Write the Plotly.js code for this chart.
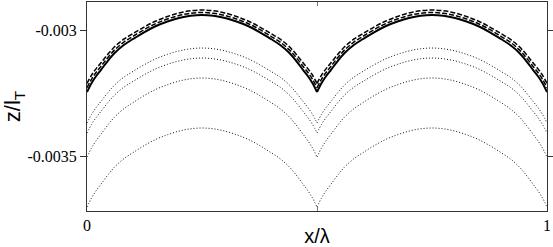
<!DOCTYPE html>
<html>
<head>
<meta charset="utf-8">
<script src="https://cdn.plot.ly/plotly-3.0.1.min.js"></script>
<style>html,body{margin:0;padding:0;background:#fff;}#chart{width:553px;height:247px;}</style>
</head>
<body>
<div id="chart"></div>
<script>
// x positions (x / lambda)
const xPos = [0,0.01,0.02,0.03,0.045,0.06,0.08,0.1,0.125,0.15,0.175,0.2,0.225,0.25,
  0.275,0.3,0.325,0.35,0.375,0.4,0.42,0.44,0.455,0.47,0.48,0.49,0.5,
  0.51,0.52,0.53,0.545,0.56,0.58,0.6,0.625,0.65,0.675,0.7,0.725,0.75,
  0.775,0.8,0.825,0.85,0.875,0.9,0.92,0.94,0.955,0.97,0.98,0.99,1];

// solid curve
const solidZ = [-0.0032433,-0.0032075,-0.0031798,-0.0031560,-0.0031203,-0.0030885,-0.0030568,-0.0030330,-0.0030052,-0.0029814,-0.0029635,-0.0029496,-0.0029409,-0.0029377,
  -0.0029409,-0.0029496,-0.0029635,-0.0029814,-0.0030052,-0.0030330,-0.0030568,-0.0030885,-0.0031203,-0.0031560,-0.0031798,-0.0032075,-0.0032433,
  -0.0032075,-0.0031798,-0.0031560,-0.0031203,-0.0030885,-0.0030568,-0.0030330,-0.0030052,-0.0029814,-0.0029635,-0.0029496,-0.0029409,-0.0029377,
  -0.0029409,-0.0029496,-0.0029635,-0.0029814,-0.0030052,-0.0030330,-0.0030568,-0.0030885,-0.0031203,-0.0031560,-0.0031798,-0.0032075,-0.0032433];

// dashed curves
const dashedAZ = [-0.0032262,-0.0031917,-0.0031651,-0.0031421,-0.0031072,-0.0030762,-0.0030453,-0.0030222,-0.0029949,-0.0029715,-0.0029536,-0.0029397,-0.0029310,-0.0029278,
  -0.0029310,-0.0029397,-0.0029536,-0.0029715,-0.0029949,-0.0030222,-0.0030453,-0.0030762,-0.0031072,-0.0031421,-0.0031651,-0.0031917,-0.0032262,
  -0.0031917,-0.0031651,-0.0031421,-0.0031072,-0.0030762,-0.0030453,-0.0030222,-0.0029949,-0.0029715,-0.0029536,-0.0029397,-0.0029310,-0.0029278,
  -0.0029310,-0.0029397,-0.0029536,-0.0029715,-0.0029949,-0.0030222,-0.0030453,-0.0030762,-0.0031072,-0.0031421,-0.0031651,-0.0031917,-0.0032262];

const dashedBZ = [-0.0032091,-0.0031758,-0.0031504,-0.0031282,-0.0030941,-0.0030639,-0.0030338,-0.0030115,-0.0029845,-0.0029615,-0.0029437,-0.0029298,-0.0029211,-0.0029179,
  -0.0029211,-0.0029298,-0.0029437,-0.0029615,-0.0029845,-0.0030115,-0.0030338,-0.0030639,-0.0030941,-0.0031282,-0.0031504,-0.0031758,-0.0032091,
  -0.0031758,-0.0031504,-0.0031282,-0.0030941,-0.0030639,-0.0030338,-0.0030115,-0.0029845,-0.0029615,-0.0029437,-0.0029298,-0.0029211,-0.0029179,
  -0.0029211,-0.0029298,-0.0029437,-0.0029615,-0.0029845,-0.0030115,-0.0030338,-0.0030639,-0.0030941,-0.0031282,-0.0031504,-0.0031758,-0.0032091];

// dotted curves
const dot1Z = [-0.0033663,-0.0033313,-0.0033044,-0.0032813,-0.0032464,-0.0032155,-0.0031845,-0.0031615,-0.0031345,-0.0031111,-0.0030937,-0.0030802,-0.0030718,-0.0030687,
  -0.0030718,-0.0030802,-0.0030937,-0.0031111,-0.0031345,-0.0031615,-0.0031845,-0.0032155,-0.0032464,-0.0032813,-0.0033044,-0.0033313,-0.0033663,
  -0.0033313,-0.0033044,-0.0032813,-0.0032464,-0.0032155,-0.0031845,-0.0031615,-0.0031345,-0.0031111,-0.0030937,-0.0030802,-0.0030718,-0.0030687,
  -0.0030718,-0.0030802,-0.0030937,-0.0031111,-0.0031345,-0.0031615,-0.0031845,-0.0032155,-0.0032464,-0.0032813,-0.0033044,-0.0033313,-0.0033663];

const dot2Z = [-0.0034060,-0.0033710,-0.0033441,-0.0033210,-0.0032861,-0.0032552,-0.0032242,-0.0032012,-0.0031742,-0.0031508,-0.0031334,-0.0031199,-0.0031115,-0.0031084,
  -0.0031115,-0.0031199,-0.0031334,-0.0031508,-0.0031742,-0.0032012,-0.0032242,-0.0032552,-0.0032861,-0.0033210,-0.0033441,-0.0033710,-0.0034060,
  -0.0033710,-0.0033441,-0.0033210,-0.0032861,-0.0032552,-0.0032242,-0.0032012,-0.0031742,-0.0031508,-0.0031334,-0.0031199,-0.0031115,-0.0031084,
  -0.0031115,-0.0031199,-0.0031334,-0.0031508,-0.0031742,-0.0032012,-0.0032242,-0.0032552,-0.0032861,-0.0033210,-0.0033441,-0.0033710,-0.0034060];

const dot3Z = [-0.0035012,-0.0034647,-0.0034361,-0.0034115,-0.0033750,-0.0033425,-0.0033099,-0.0032853,-0.0032568,-0.0032325,-0.0032143,-0.0032000,-0.0031909,-0.0031877,
  -0.0031909,-0.0032000,-0.0032143,-0.0032325,-0.0032568,-0.0032853,-0.0033099,-0.0033425,-0.0033750,-0.0034115,-0.0034361,-0.0034647,-0.0035012,
  -0.0034647,-0.0034361,-0.0034115,-0.0033750,-0.0033425,-0.0033099,-0.0032853,-0.0032568,-0.0032325,-0.0032143,-0.0032000,-0.0031909,-0.0031877,
  -0.0031909,-0.0032000,-0.0032143,-0.0032325,-0.0032568,-0.0032853,-0.0033099,-0.0033425,-0.0033750,-0.0034115,-0.0034361,-0.0034647,-0.0035012];

const dot4Z = [-0.0036996,-0.0036631,-0.0036345,-0.0036099,-0.0035734,-0.0035409,-0.0035083,-0.0034837,-0.0034552,-0.0034309,-0.0034127,-0.0033984,-0.0033893,-0.0033861,
  -0.0033893,-0.0033984,-0.0034127,-0.0034309,-0.0034552,-0.0034837,-0.0035083,-0.0035409,-0.0035734,-0.0036099,-0.0036345,-0.0036631,-0.0036996,
  -0.0036631,-0.0036345,-0.0036099,-0.0035734,-0.0035409,-0.0035083,-0.0034837,-0.0034552,-0.0034309,-0.0034127,-0.0033984,-0.0033893,-0.0033861,
  -0.0033893,-0.0033984,-0.0034127,-0.0034309,-0.0034552,-0.0034837,-0.0035083,-0.0035409,-0.0035734,-0.0036099,-0.0036345,-0.0036631,-0.0036996];

const xTickVals = [0, 0.5, 1];
const xTickText = ['0', ' ', '1'];
const yTickVals = [-0.0035, -0.003];
const yTickText = ['-0.0035', '-0.003'];

const SERIF = 'Liberation Serif';
const SANS = 'Liberation Sans';

// each curve is drawn arch by arch so the cusps stay sharp while the arches are smooth
const cuspIdx = [0, 26, 52];
function traces(y, dash, width, color) {
  const out = [];
  for (let k = 0; k < cuspIdx.length - 1; k++) {
    const a = cuspIdx[k], b = cuspIdx[k + 1] + 1;
    out.push({x: xPos.slice(a, b), y: y.slice(a, b), mode: 'lines', type: 'scatter',
      hoverinfo: 'skip',
      line: {color: color, width: width, dash: dash, shape: 'spline', smoothing: 1}});
  }
  return out;
}

const data = [].concat(
  traces(dot4Z, '1px,2px', 1, '#111'),
  traces(dot3Z, '1px,2px', 1, '#111'),
  traces(dot2Z, '1px,2px', 1, '#111'),
  traces(dot1Z, '1px,2px', 1, '#111'),
  traces(solidZ, 'solid', 2, '#000'),
  traces(dashedAZ, '5px,2px', 1.5, '#000'),
  traces(dashedBZ, '5px,2px', 1.5, '#000')
);

const layout = {
  width: 553, height: 247,
  margin: {l: 87, r: 6, t: 2, b: 36, pad: 0},
  paper_bgcolor: '#fff', plot_bgcolor: '#fff',
  showlegend: false,
  font: {family: SERIF, size: 16, color: '#000'},
  xaxis: {
    range: [0, 1], tickvals: xTickVals, ticktext: xTickText,
    ticks: 'inside', ticklen: 4, tickwidth: 1, tickcolor: '#777',
    showline: true, linecolor: '#333', linewidth: 1, mirror: 'ticks',
    showgrid: false, zeroline: false, automargin: false,
    tickfont: {family: SERIF, size: 16, color: '#000'},
    title: {text: 'x/λ', font: {family: SANS, size: 20, color: '#000'}, standoff: 1}
  },
  yaxis: {
    range: [-0.0037154, -0.0028861], tickvals: yTickVals, ticktext: yTickText,
    ticks: 'outside', ticklen: 6, tickwidth: 1, tickcolor: '#333',
    showline: true, linecolor: '#333', linewidth: 1, mirror: 'ticks',
    showgrid: false, zeroline: false, automargin: false,
    tickfont: {family: SERIF, size: 16, color: '#000'},
    title: {text: 'z/l<sub>T</sub>', font: {family: SANS, size: 22, color: '#000'}, standoff: 3}
  }
};

Plotly.newPlot('chart', data, layout, {staticPlot: true, displayModeBar: false});
</script>
</body>
</html>
